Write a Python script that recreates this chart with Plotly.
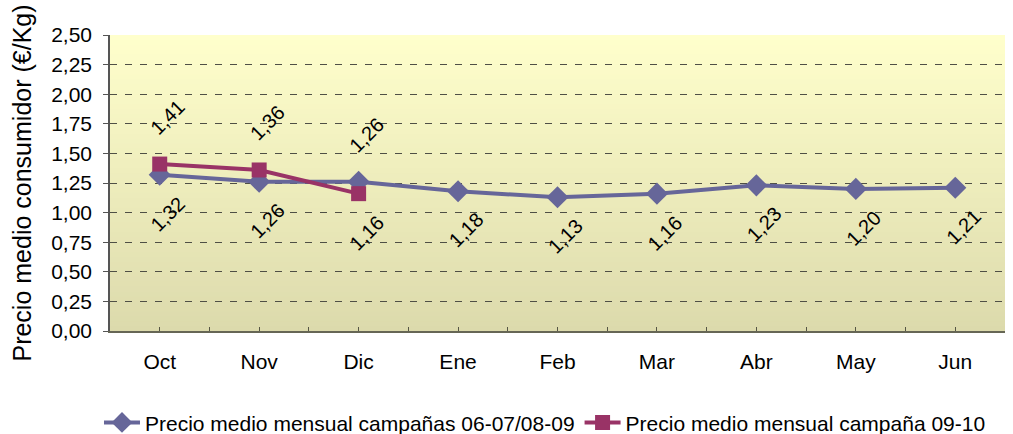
import plotly.graph_objects as go

# datos
meses = ["Oct", "Nov", "Dic", "Ene", "Feb", "Mar", "Abr", "May", "Jun"]
precio_06_09 = [1.32, 1.26, 1.26, 1.18, 1.13, 1.16, 1.23, 1.20, 1.21]
precio_09_10 = [1.41, 1.36, 1.16]

nombre_06_09 = "Precio medio mensual campañas 06-07/08-09"
nombre_09_10 = "Precio medio mensual campaña 09-10"

COL_AZUL = "#666699"
COL_GRANATE = "#993366"
FUENTE = "Liberation Sans, Arial, sans-serif"


def fmt(v):
    return f"{v:.2f}".replace(".", ",")


xs = list(range(len(meses)))

fig = go.Figure()
fig.add_trace(go.Scatter(
    x=xs, y=precio_06_09, name=nombre_06_09, mode="lines+markers",
    line=dict(color=COL_AZUL, width=4),
    marker=dict(symbol="diamond", size=17, color=COL_AZUL),
))
fig.add_trace(go.Scatter(
    x=xs[:len(precio_09_10)], y=precio_09_10, name=nombre_09_10, mode="lines+markers",
    line=dict(color=COL_GRANATE, width=4),
    marker=dict(symbol="square", size=15, color=COL_GRANATE),
))

# etiquetas giradas: la serie mas alta arriba, la otra abajo
anots = []
for serie, otra in [(precio_06_09, precio_09_10), (precio_09_10, precio_06_09)]:
    for i, v in enumerate(serie):
        arriba = i < len(otra) and v > otra[i]
        anots.append(dict(
            x=i, y=v, text=fmt(v), textangle=-45, showarrow=False,
            xshift=8, yshift=47 if arriba else -39,
            font=dict(size=20, color="black", family=FUENTE),
        ))

# fondo degradado del area de trazado
arriba_rgb = (255, 255, 204)
abajo_rgb = (220, 218, 172)
n = 60
formas = []
for k in range(n):
    t = (k + 0.5) / n
    c = [round(abajo_rgb[j] + (arriba_rgb[j] - abajo_rgb[j]) * t) for j in range(3)]
    formas.append(dict(
        type="rect", xref="x domain", yref="y domain",
        x0=0, x1=1, y0=k / n, y1=min(1, (k + 1) / n + 0.003),
        fillcolor=f"rgb({c[0]},{c[1]},{c[2]})", line=dict(width=0), layer="below",
    ))

fig.update_layout(
    width=1013, height=434,
    margin=dict(l=110, r=8, t=35, b=103, autoexpand=False),
    paper_bgcolor="white",
    plot_bgcolor="rgba(0,0,0,0)",
    separators=",.",
    font=dict(family=FUENTE, size=21, color="black"),
    annotations=anots,
    shapes=formas,
    showlegend=True,
    legend=dict(
        orientation="h", xref="container", yref="paper",
        x=0.538, xanchor="center", y=-0.31, yanchor="middle",
        itemwidth=36,
        font=dict(size=21), bgcolor="rgba(0,0,0,0)",
    ),
    xaxis=dict(
        range=[-0.5, len(meses) - 0.5], automargin=False,
        tickmode="array", tickvals=xs, ticktext=meses,
        ticks="inside", ticklen=4, tickcolor="#555544", tickwidth=1,
        minor=dict(tick0=-0.5, dtick=1, ticks="inside", ticklen=4,
                   tickcolor="#555544", showgrid=False),
        showgrid=False, zeroline=False,
        showline=True, linecolor="#666655", linewidth=2,
        ticklabelstandoff=11,
    ),
    yaxis=dict(
        range=[0, 2.5], dtick=0.25, tickformat=".2f", automargin=False,
        ticks="outside", ticklen=5, tickcolor="#555555",
        showgrid=True, gridcolor="#4f4f45", gridwidth=1.4, griddash="7px,8px",
        zeroline=False,
        showline=True, linecolor="#555555", linewidth=1.5,
        title=dict(text="Precio medio consumidor (€/Kg)", standoff=12),
        ticklabelstandoff=7,
    ),
)

# quitar el margen por defecto del body para que la figura empiece en 0,0
fig.write_html("out.html", config={"displayModeBar": False},
               post_script="document.body.style.margin='0';")
